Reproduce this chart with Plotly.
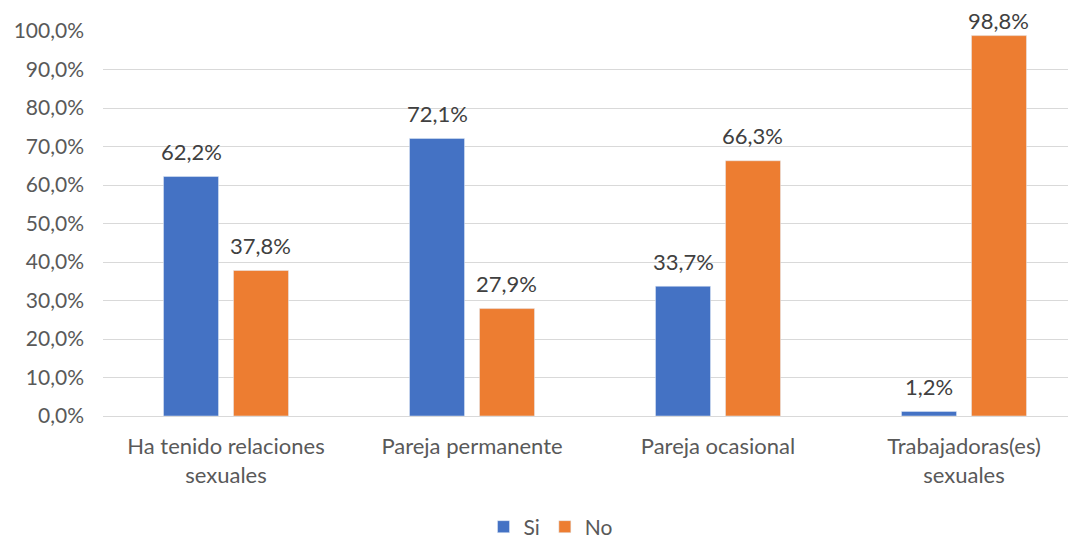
import plotly.graph_objects as go

categories = ["Ha tenido relaciones<br>sexuales", "Pareja permanente", "Pareja ocasional", "Trabajadoras(es)<br>sexuales"]
si_values = [62.2, 72.1, 33.7, 1.2]
no_values = [37.8, 27.9, 66.3, 98.8]
tick_vals = [0, 10, 20, 30, 40, 50, 60, 70, 80, 90, 100]
tick_text = ["0,0%", "10,0%", "20,0%", "30,0%", "40,0%", "50,0%", "60,0%", "70,0%", "80,0%", "90,0%", "100,0%"]

def fmt(v):
    return f"{v:.1f}%".replace(".", ",")

FONT = "Lato, Open Sans, sans-serif"
OFF = 8  # page body margin
W, H = 1090, 538
ML, MR, MT, MB = 103 - OFF, 11, 31 - OFF, 122 + OFF
plot_h = H - MT - MB
plot_w = W - ML - MR
BARGAP, GROUPGAP = 0.431, 0.214
cat_w = plot_w / len(categories)
slot = cat_w * (1 - BARGAP) / 2

fig = go.Figure()
fig.add_trace(go.Bar(name="Si", x=categories, y=si_values, marker_color="#4472C4"))
fig.add_trace(go.Bar(name="No", x=categories, y=no_values, marker_color="#ED7D31"))

# data labels (Excel-like: above bar, kept inside chart)
for series, sign in ((si_values, -1), (no_values, 1)):
    for cat, v in zip(categories, series):
        bar_top = OFF + MT + (100 - v) / 100 * plot_h
        center = max(bar_top - 25, 21)
        fig.add_annotation(x=cat, y=v, xref="x", yref="y", text=fmt(v), showarrow=False,
                           xshift=sign * slot / 2, yshift=bar_top - center, yanchor="middle",
                           font=dict(size=22, color="#404040", family=FONT))

fig.update_layout(
    width=W, height=H,
    margin=dict(l=ML, r=MR, t=MT, b=MB, autoexpand=False),
    paper_bgcolor="white", plot_bgcolor="white",
    barmode="group", bargap=BARGAP, bargroupgap=GROUPGAP,
    font=dict(family=FONT, size=22, color="#595959"),
    legend=dict(orientation="h", x=(551 - 103) / plot_w, xanchor="center", y=(416 - 527) / plot_h,
                yanchor="middle", font=dict(size=21, color="#595959"), traceorder="normal"),
    showlegend=True,
)
fig.update_yaxes(range=[0, 100], tickvals=tick_vals, ticktext=tick_text, automargin=False,
                 showgrid=True, gridcolor="#D9D9D9", gridwidth=1, zeroline=False,
                 tickfont=dict(size=21, color="#595959"), ticks="", ticklabelstandoff=18)
fig.update_xaxes(showline=True, linecolor="#D9D9D9", linewidth=1, automargin=False,
                 tickfont=dict(size=22, color="#595959"), ticks="", ticklabelstandoff=11)
fig.write_html("out.html")
